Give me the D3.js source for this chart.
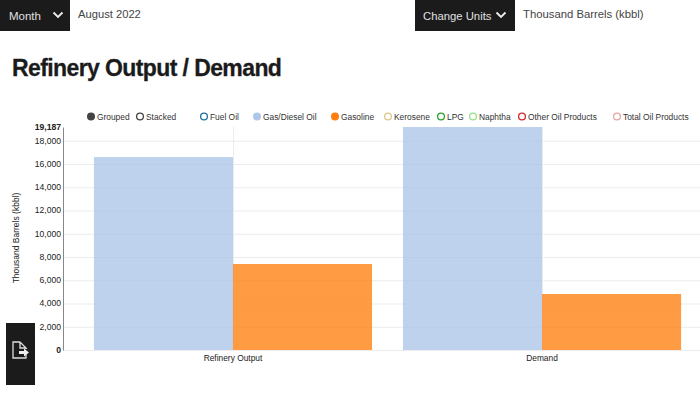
<!DOCTYPE html>
<html><head><meta charset="utf-8">
<script src="https://cdn.jsdelivr.net/npm/d3@7"></script>
<style>
html,body{margin:0;padding:0;background:#fff;overflow:hidden}
svg{display:block;font-family:"Liberation Sans",Arial,sans-serif}
</style></head><body>
<svg id="c" width="700" height="394"></svg>
<script>
const categories = ["Refinery Output", "Demand"];
const barSeries = ["Gas/Diesel Oil", "Gasoline"];
const gasDiesel = [16600, 19187];
const gasoline = [7400, 4820];
const yTicks = [0,2000,4000,6000,8000,10000,12000,14000,16000,18000];
const yMax = 19187;
const modeLegend = [{n:"Grouped",x:91,tx:97,filled:true},{n:"Stacked",x:140,tx:146,filled:false}];
const seriesLegend = [
 {n:"Fuel Oil",x:204,tx:210,c:"#1f6f9f",f:false},
 {n:"Gas/Diesel Oil",x:257,tx:263,c:"#aec7e8",f:true},
 {n:"Gasoline",x:335,tx:341,c:"#ff7f0e",f:true},
 {n:"Kerosene",x:388,tx:394,c:"#e0c68c",f:false},
 {n:"LPG",x:441,tx:447,c:"#2ca02c",f:false},
 {n:"Naphtha",x:473,tx:479,c:"#98df8a",f:false},
 {n:"Other Oil Products",x:522,tx:528,c:"#d62728",f:false},
 {n:"Total Oil Products",x:617,tx:623,c:"#e8a5a5",f:false}];
const colors = {"Gas/Diesel Oil":"#aec7e8","Gasoline":"#ff7f0e"};
const values = {"Gas/Diesel Oil":gasDiesel,"Gasoline":gasoline};

const svg = d3.select("#c");
const x0 = d3.scaleBand().domain(categories).range([63,712]).paddingInner(.1).paddingOuter(.1);
const x1 = d3.scaleBand().domain(barSeries).range([0,x0.bandwidth()]);
const y = d3.scaleLinear().domain([0,yMax]).range([350,127]);

// header controls
function darkBox(x,yy,w,h){svg.append("rect").attr("x",x).attr("y",yy).attr("width",w).attr("height",h).attr("fill","#1b1b1b");}
function chevron(cx,cy){svg.append("path").attr("d",`M${cx-4.5},${cy-2.5}L${cx},${cy+2}L${cx+4.5},${cy-2.5}`).attr("fill","none").attr("stroke","#eee").attr("stroke-width",1.8);}
function label(t,xx,yy,size,fill,weight){return svg.append("text").attr("x",xx).attr("y",yy).attr("font-size",size).attr("fill",fill).attr("font-weight",weight||400).text(t);}
darkBox(0,0,70,31); label("Month",9,19.5,11.5,"#e0e0e0"); chevron(58,15);
label("August 2022",78,18,11.2,"#444");
darkBox(415,0,100,31); label("Change Units",423,19.5,11.3,"#e0e0e0"); chevron(501,15);
label("Thousand Barrels (kbbl)",523,18,11.3,"#444");
label("Refinery Output / Demand",12,76,23,"#1b1b1b",700).attr("letter-spacing",-0.6).attr("stroke","#1b1b1b").attr("stroke-width",0.3);

// grid
const g = svg.append("g");
g.selectAll("line.grid").data(yTicks).join("line").attr("class","grid")
 .attr("x1",63).attr("x2",700).attr("y1",d=>y(d)+.5).attr("y2",d=>y(d)+.5).attr("stroke","#ececec");
g.selectAll("line.vgrid").data(categories).join("line").attr("class","vgrid")
 .attr("x1",d=>x0(d)+x0.bandwidth()/2+.5).attr("x2",d=>x0(d)+x0.bandwidth()/2+.5).attr("y1",127).attr("y2",350).attr("stroke","#ececec");

// bars
barSeries.forEach(s=>{
 svg.append("g").selectAll("rect").data(categories).join("rect")
  .attr("x",d=>x0(d)+x1(s)).attr("width",x1.bandwidth())
  .attr("y",(d,i)=>y(values[s][i])).attr("height",(d,i)=>y(0)-y(values[s][i]))
  .attr("fill",colors[s]).attr("fill-opacity",s==="Gasoline"?.78:.8);
});

// axes
const yAxis = svg.append("g").attr("transform","translate(63,0)")
 .call(d3.axisLeft(y).tickValues(yTicks).tickSize(0).tickPadding(2).tickFormat(d3.format(",")));
yAxis.select(".domain").attr("stroke","#888").attr("stroke-width",1);
yAxis.selectAll("text").attr("font-size",8.6).attr("fill","#222").attr("font-family","Liberation Sans").attr("dy","0.27em");
yAxis.selectAll("text").filter(d=>d===0).attr("font-weight",700);
label("19,187",61,130,8.6,"#222",700).attr("text-anchor","end");
svg.append("text").attr("transform","translate(19,238) rotate(-90)").attr("text-anchor","middle")
 .attr("font-size",8.5).attr("fill","#222").text("Thousand Barrels (kbbl)");
svg.append("g").selectAll("text").data(categories).join("text")
 .attr("x",d=>x0(d)+x0.bandwidth()/2).attr("y",361).attr("text-anchor","middle")
 .attr("font-size",8.4).attr("fill","#222").text(d=>d);

// legends
modeLegend.forEach(d=>{
 svg.append("circle").attr("cx",d.x).attr("cy",116.5).attr("r",d.filled?4:3.4)
  .attr("fill",d.filled?"#444":"#fff").attr("stroke","#444").attr("stroke-width",d.filled?0:1.3);
 label(d.n,d.tx,119.5,8.4,"#333");
});
seriesLegend.forEach(d=>{
 svg.append("circle").attr("cx",d.x).attr("cy",116.5).attr("r",d.f?4:3.4)
  .attr("fill",d.f?d.c:"#fff").attr("stroke",d.c).attr("stroke-width",d.f?0:1.3);
 label(d.n,d.tx,119.5,8.4,"#333");
});

// export button
darkBox(6,323,29,62);
svg.append("path").attr("d","M20,342H13V358H26V351M20,342L26,348H20V342M26,348V349").attr("fill","none").attr("stroke","#ddd").attr("stroke-width",1.3);
svg.append("path").attr("d","M19,351H24V348.5L29,352.5L24,356.5V354H19Z").attr("fill","#eee");
</script></body></html>
